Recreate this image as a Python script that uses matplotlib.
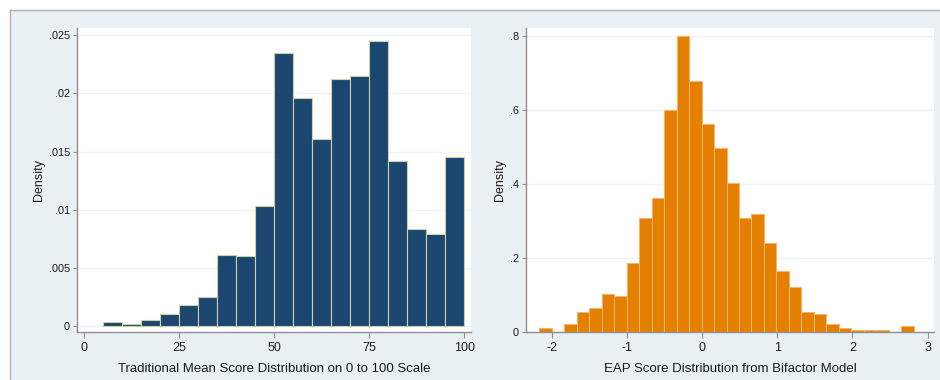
"""Two Stata-style density histograms side by side: traditional mean score (0-100) and EAP score."""
import numpy as np
import matplotlib
matplotlib.use("Agg")
import matplotlib.pyplot as plt
from matplotlib.patches import Rectangle
from matplotlib.lines import Line2D

plt.rcParams["font.family"] = ["Liberation Sans", "DejaVu Sans"]

# left: traditional mean score, bins of width 5 starting at 5
trad_edges = [5, 10, 15, 20, 25, 30, 35, 40, 45, 50, 55, 60, 65, 70, 75, 80, 85, 90, 95]
trad_width = 5
trad_density = [0.00034, 0.0002, 0.0005, 0.00106, 0.0018, 0.0025, 0.0061, 0.0060, 0.0103,
                0.0235, 0.0196, 0.0161, 0.0212, 0.0215, 0.0245, 0.0142, 0.0083, 0.0079, 0.01454]
trad_xticks = [0, 25, 50, 75, 100]
trad_yticks = [0, 0.005, 0.01, 0.015, 0.02, 0.025]
trad_ylabels = ["0", ".005", ".01", ".015", ".02", ".025"]

# right: EAP scores, 30 bins
eap_start = -2.167
eap_width = 0.1661
eap_density = [0.011, 0.0, 0.0216, 0.053, 0.063, 0.101, 0.0956, 0.185, 0.307, 0.361,
               0.599, 0.801, 0.678, 0.561, 0.498, 0.403, 0.307, 0.317, 0.239, 0.164,
               0.122, 0.053, 0.047, 0.0216, 0.0108, 0.0045, 0.0045, 0.0045, 0.0, 0.016]
eap_edges = eap_start + eap_width * np.arange(len(eap_density))
eap_xticks = [-2, -1, 0, 1, 2, 3]
eap_yticks = [0, 0.2, 0.4, 0.6, 0.8]
eap_ylabels = ["0", ".2", ".4", ".6", ".8"]

W, H = 940, 380
BG = "#e9f0f3"
AXC = "#8f8f8f"
TXT = "#1a1a1a"


def px(x0, y0, x1, y1):
    """pixel box (top-left origin) -> figure fraction rect"""
    return [x0 / W, 1 - y1 / H, (x1 - x0) / W, (y1 - y0) / H]


def style(ax, xticks, yticks, ylabels, xlabel):
    ax.set_facecolor("white")
    for s in ("top", "right"):
        ax.spines[s].set_visible(False)
    for s in ("left", "bottom"):
        ax.spines[s].set_color(AXC)
        ax.spines[s].set_linewidth(1.0)
    ax.set_xticks(xticks)
    ax.set_xticklabels([str(t) for t in xticks])
    ax.set_yticks(yticks)
    ax.set_yticklabels(ylabels)
    ax.tick_params(axis="x", length=4, width=0.8, color=AXC, pad=3, labelsize=9, labelcolor=TXT)
    ax.tick_params(axis="y", length=3, width=0.8, color=AXC, pad=2, labelsize=7.8, labelcolor=TXT)
    for t in yticks:
        ax.axhline(t, color="#eef4f5", lw=1.0, zorder=0)
    ax.set_ylabel("Density", fontsize=9, color=TXT, labelpad=3)
    ax.set_xlabel(xlabel, fontsize=9.5, color=TXT, labelpad=7)


fig = plt.figure(figsize=(W / 100, H / 100), dpi=100, facecolor="white")
fig.patches.append(Rectangle((10 / W, 0), 1 - 10 / W, 1 - 10 / H, transform=fig.transFigure,
                             facecolor=BG, edgecolor="none", zorder=-10))
fig.lines.append(Line2D([10 / W, 1], [1 - 10 / H, 1 - 10 / H], transform=fig.transFigure,
                        color="#b0b0b0", lw=1.0, zorder=-9))
fig.lines.append(Line2D([10 / W, 10 / W], [0, 1 - 10 / H], transform=fig.transFigure,
                        color="#b0b0b0", lw=1.0, zorder=-9))

ax1 = fig.add_axes(px(77, 28, 471, 332))
ax1.bar(trad_edges, trad_density, width=trad_width, align="edge",
        color="#1a4670", edgecolor="#cfcfa6", linewidth=0.8, zorder=2)
ax1.set_xlim(-1.92, 101.8)
ax1.set_ylim(-0.00052, 0.02563)
style(ax1, trad_xticks, trad_yticks, trad_ylabels,
      "Traditional Mean Score Distribution on 0 to 100 Scale")

ax2 = fig.add_axes(px(526, 28, 934, 332))
ax2.bar(eap_edges, eap_density, width=eap_width, align="edge",
        color="#e47f00", edgecolor="#f3b56c", linewidth=0.8, zorder=2)
ax2.set_xlim(-2.342, 3.084)
ax2.set_ylim(-0.001, 0.8217)
style(ax2, eap_xticks, eap_yticks, eap_ylabels, "EAP Score Distribution from Bifactor Model")

fig.savefig("out.png", dpi=100, facecolor="white")
